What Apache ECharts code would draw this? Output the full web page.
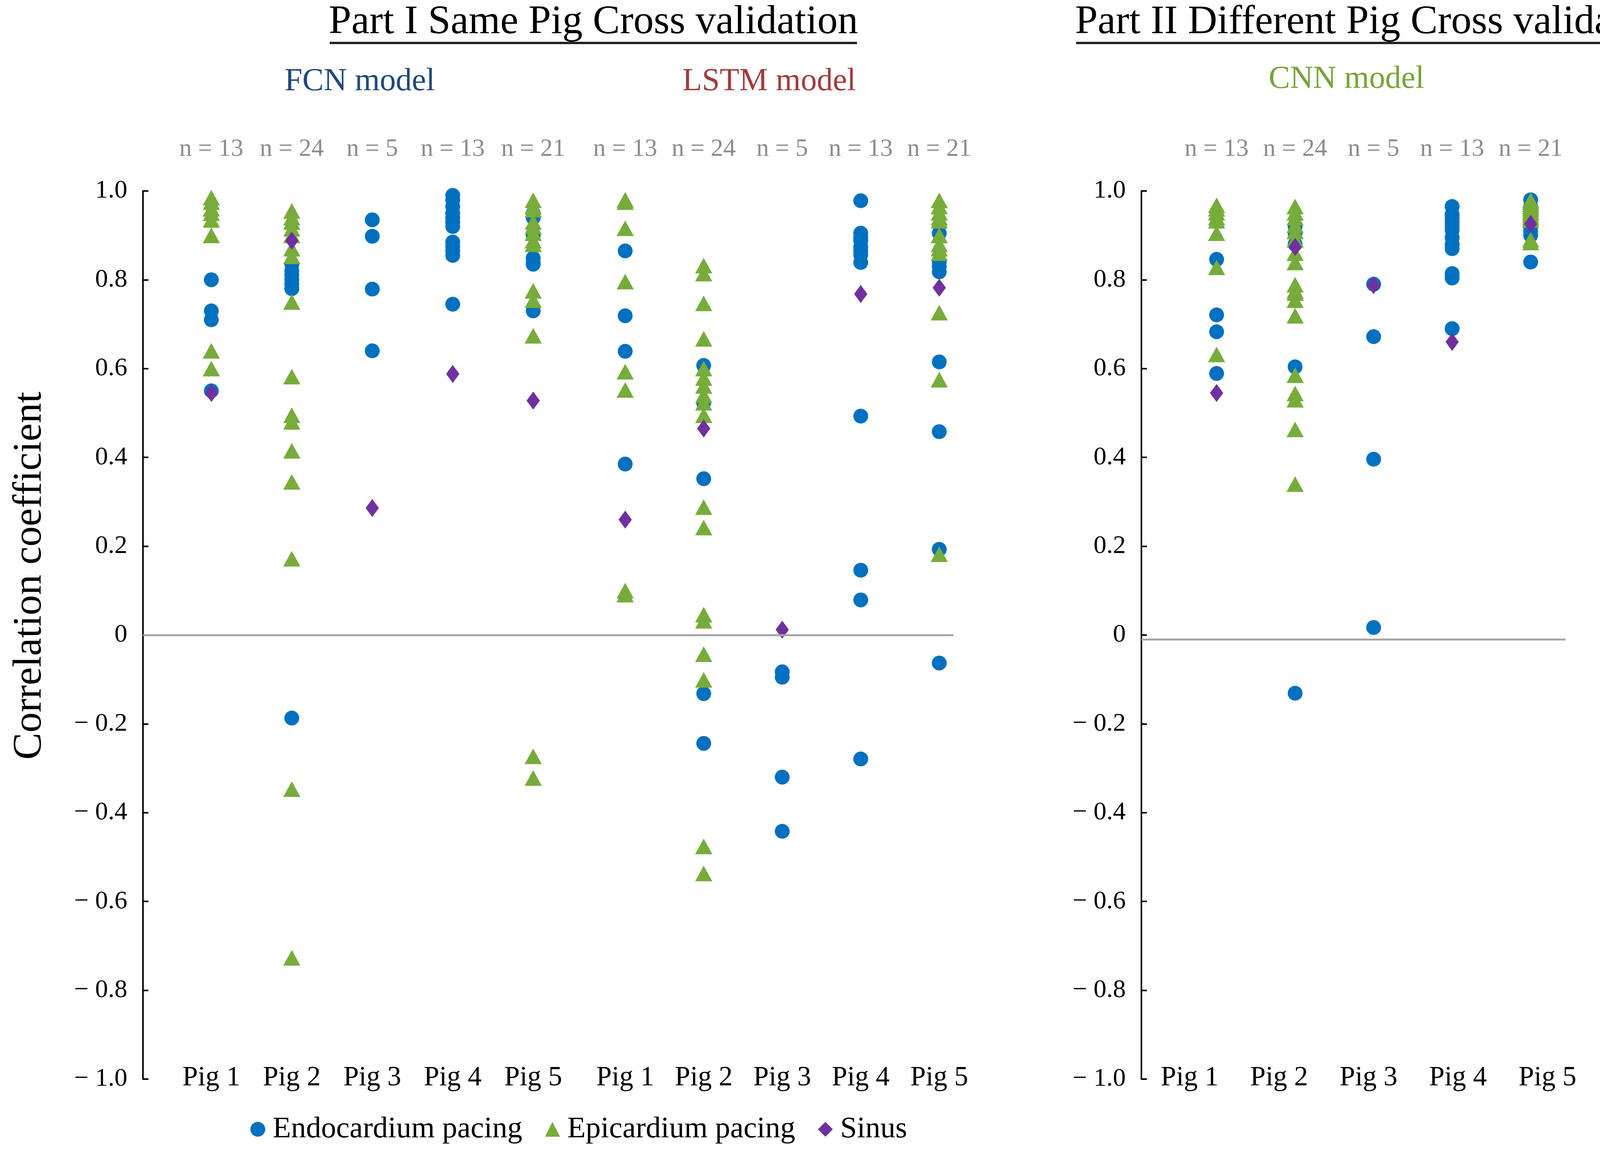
<!DOCTYPE html>
<html><head><meta charset="utf-8">
<script src="https://cdn.jsdelivr.net/npm/echarts/dist/echarts.min.js"></script>
<style>html,body{margin:0;padding:0;background:#fff}#c{width:4310px;height:2965px}</style>
</head><body><div id="c"></div>
<script>
// ---------- data ----------
const pigs = ['Pig 1', 'Pig 2', 'Pig 3', 'Pig 4', 'Pig 5'];
const nLabels = ['n = 13', 'n = 24', 'n = 5', 'n = 13', 'n = 21'];
const seriesNames = ['Endocardium pacing', 'Epicardium pacing', 'Sinus'];

// Part I - FCN model (one list per pig)
const fcnEndo = [
  [0.80, 0.73, 0.71, 0.55],
  [0.835, 0.82, 0.81, 0.80, 0.79, 0.78, -0.187],
  [0.935, 0.898, 0.779, 0.64],
  [0.99, 0.98, 0.965, 0.95, 0.94, 0.93, 0.92, 0.885, 0.875, 0.865, 0.855, 0.745],
  [0.95, 0.94, 0.90, 0.849, 0.84, 0.835, 0.73]
];
const fcnEpi = [
  [0.985, 0.975, 0.96, 0.95, 0.935, 0.90, 0.64, 0.60],
  [0.955, 0.94, 0.93, 0.915, 0.90, 0.87, 0.853, 0.75, 0.582, 0.495, 0.48, 0.415, 0.345, 0.172, -0.347, -0.727],
  [],
  [],
  [0.979, 0.965, 0.958, 0.93, 0.92, 0.905, 0.888, 0.88, 0.775, 0.754, 0.674, -0.273, -0.322]
];
const fcnSinus = [[0.545], [0.888], [0.286], [0.588], [0.528]];

// Part I - LSTM model
const lstmEndo = [
  [0.865, 0.719, 0.639, 0.385],
  [0.607, 0.523, 0.352, -0.132, -0.244],
  [-0.083, -0.095, -0.32, -0.442],
  [0.978, 0.905, 0.895, 0.888, 0.874, 0.865, 0.856, 0.839, 0.493, 0.146, 0.079, -0.279],
  [0.905, 0.84, 0.83, 0.818, 0.615, 0.458, 0.193, -0.063]
];
const lstmEpi = [
  [0.98, 0.975, 0.916, 0.796, 0.593, 0.552, 0.10, 0.091],
  [0.832, 0.814, 0.747, 0.667, 0.60, 0.579, 0.561, 0.54, 0.523, 0.495, 0.288, 0.242, 0.046, 0.032, -0.043, -0.101, -0.476, -0.537],
  [],
  [],
  [0.979, 0.965, 0.951, 0.94, 0.933, 0.90, 0.88, 0.87, 0.86, 0.726, 0.575, 0.182]
];
const lstmSinus = [[0.26], [0.465], [0.012], [0.768], [0.782]];

// Part II - CNN model
const cnnEndo = [
  [0.846, 0.721, 0.683, 0.589],
  [0.92, 0.905, 0.88, 0.604, -0.131],
  [0.79, 0.672, 0.396, 0.017],
  [0.965, 0.947, 0.94, 0.93, 0.92, 0.912, 0.895, 0.88, 0.87, 0.814, 0.804, 0.69],
  [0.98, 0.965, 0.95, 0.93, 0.919, 0.909, 0.90, 0.84]
];
const cnnEpi = [
  [0.968, 0.96, 0.951, 0.94, 0.933, 0.905, 0.828, 0.632],
  [0.965, 0.951, 0.94, 0.923, 0.909, 0.89, 0.86, 0.839, 0.789, 0.775, 0.77, 0.754, 0.719, 0.585, 0.544, 0.53, 0.463, 0.34],
  [],
  [],
  [0.979, 0.975, 0.97, 0.965, 0.96, 0.955, 0.951, 0.945, 0.94, 0.935, 0.89, 0.884]
];
const cnnSinus = [[0.545], [0.874], [0.788], [0.66], [0.926]];

// ---------- styling ----------
const FONT = '"Liberation Serif", "Times New Roman", serif';
const C_ENDO = '#0070C0', C_EPI = '#77AC3B', C_SIN = '#7030A0';
const TOP = 489, H = 2274;

function pairs(arr) {
  const out = [];
  arr.forEach((vals, i) => vals.forEach(v => out.push([i, v])));
  return out;
}
function yFmt(v) {
  if (Math.abs(v) < 1e-9) return '0';
  return v < 0 ? '\u2212 ' + (-v).toFixed(1) : v.toFixed(1);
}

const visibleY = (gi) => ({
  gridIndex: gi, type: 'value', min: -1, max: 1, interval: 0.2,
  axisLine: { show: true, lineStyle: { color: '#000', width: 4 } },
  axisTick: { show: true, inside: true, length: 14, lineStyle: { color: '#000', width: 4 } },
  axisLabel: { fontFamily: FONT, fontSize: 66, color: '#000', margin: 40, formatter: yFmt },
  splitLine: { show: false }
});
const hiddenY = (gi) => ({ gridIndex: gi, type: 'value', min: -1, max: 1, show: false });
const pigAxis = (gi, showLabels) => ({
  gridIndex: gi, type: 'category', data: pigs, position: 'bottom',
  axisLine: { show: false }, axisTick: { show: false }, splitLine: { show: false },
  axisLabel: { show: showLabels, fontFamily: FONT, fontSize: 71, color: '#000', margin: -38, interval: 0 }
});
const nAxis = (gi) => ({
  gridIndex: gi, type: 'category', data: nLabels, position: 'top',
  axisLine: { show: false }, axisTick: { show: false }, splitLine: { show: false },
  axisLabel: { fontFamily: FONT, fontSize: 64, color: '#8c8c8c', margin: 75, interval: 0 }
});

const grids = [
  { left: 366, top: TOP, width: 2075, height: H },   // 0 left overlay (y axis + zero line)
  { left: 438, top: TOP, width: 1030, height: H },   // 1 FCN
  { left: 1500, top: TOP, width: 1005, height: H },  // 2 LSTM
  { left: 2922, top: TOP, width: 1086, height: H },  // 3 right overlay
  { left: 3014, top: TOP, width: 1005, height: H },  // 4 CNN data
  { left: 2931, top: TOP, width: 1145, height: H }   // 5 CNN labels
];

const xAxes = [
  { gridIndex: 0, type: 'value', min: 0, max: 1, show: false },
  pigAxis(1, true), nAxis(1),
  pigAxis(2, true), nAxis(2),
  { gridIndex: 3, type: 'value', min: 0, max: 1, show: false },
  pigAxis(4, false), nAxis(4),
  pigAxis(5, true)
];
const yAxes = [visibleY(0), hiddenY(1), hiddenY(2), visibleY(3), hiddenY(4), hiddenY(5)];

function zeroLine(xi, yi, val) {
  return {
    type: 'scatter', xAxisIndex: xi, yAxisIndex: yi, data: [], silent: true,
    markLine: {
      silent: true, symbol: 'none', label: { show: false },
      lineStyle: { color: '#a6a6a6', width: 5, type: 'solid' },
      data: [{ yAxis: val }]
    }
  };
}
function panelSeries(xi, yi, endo, epi, sin) {
  return [
    { name: seriesNames[0], type: 'scatter', xAxisIndex: xi, yAxisIndex: yi, symbol: 'circle', symbolSize: 38,
      itemStyle: { color: C_ENDO, opacity: 1 }, data: pairs(endo) },
    { name: seriesNames[1], type: 'scatter', xAxisIndex: xi, yAxisIndex: yi, symbol: 'triangle', symbolSize: [44, 40],
      itemStyle: { color: C_EPI, opacity: 1 }, data: pairs(epi) },
    { name: seriesNames[2], type: 'scatter', xAxisIndex: xi, yAxisIndex: yi, symbol: 'diamond', symbolSize: [34, 46],
      itemStyle: { color: C_SIN, opacity: 1 }, data: pairs(sin) }
  ];
}

const series = [].concat(
  [zeroLine(0, 0, 0), zeroLine(5, 3, -0.01)],
  panelSeries(1, 1, fcnEndo, fcnEpi, fcnSinus),
  panelSeries(3, 2, lstmEndo, lstmEpi, lstmSinus),
  panelSeries(6, 4, cnnEndo, cnnEpi, cnnSinus)
);

const txt = (x, y, text, size, color, extra) => Object.assign({
  type: 'text', x: x, y: y, silent: true,
  style: { text: text, fontFamily: FONT, fontSize: size, fill: color, textAlign: 'center', textVerticalAlign: 'middle' }
}, extra || {});

const option = {
  backgroundColor: '#fff',
  animation: false,
  grid: grids,
  xAxis: xAxes,
  yAxis: yAxes,
  legend: {
    left: 636, top: 2848, itemWidth: 38, itemHeight: 38, itemGap: 58,
    textStyle: { fontFamily: FONT, fontSize: 77, color: '#000', padding: [0, 0, 0, 14] },
    data: [
      { name: seriesNames[0], icon: 'circle' },
      { name: seriesNames[1], icon: 'triangle' },
      { name: seriesNames[2], icon: 'diamond' }
    ]
  },
  graphic: [
    txt(1519, 58, 'Part I Same Pig Cross validation', 104, '#000'),
    { type: 'rect', silent: true, shape: { x: 844, y: 107, width: 1350, height: 6 }, style: { fill: '#222' } },
    txt(3521, 58, 'Part II Different Pig Cross validation', 104, '#000'),
    { type: 'rect', silent: true, shape: { x: 2755, y: 107, width: 1533, height: 6 }, style: { fill: '#222' } },
    txt(921, 209, 'FCN model', 82, '#1F497D'),
    txt(1969, 209, 'LSTM model', 82, '#A33B3B'),
    txt(3447, 203, 'CNN model', 82, '#77A33A'),
    txt(77, 1474, 'Correlation coefficient', 104, '#000', { rotation: Math.PI / 2 })
  ],
  series: series
};

const chart = echarts.init(document.getElementById('c'));
chart.setOption(option);
</script>
</body></html>
